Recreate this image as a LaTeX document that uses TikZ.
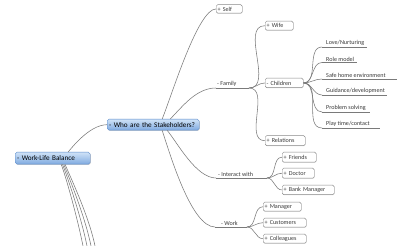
\documentclass[tikz,border=0pt]{standalone}
\usepackage{fontspec}
\setmainfont{Carlito}
\usetikzlibrary{shadows}
\definecolor{linegray}{HTML}{7A7A7A}
\definecolor{boxgray}{HTML}{8A8A8A}
\definecolor{txtgray}{HTML}{3A3A3A}
\definecolor{bluetop}{HTML}{CFE2F7}
\definecolor{bluebot}{HTML}{7FAAE0}
\definecolor{blueline}{HTML}{5B8BCB}
\begin{document}
\begin{tikzpicture}[x=1pt,y=-1pt,
  conn/.style={draw=linegray,line width=0.55pt},
  bluebox/.style={draw=blueline,rounded corners=1.8pt,top color=bluetop,bottom color=bluebot,
    inner xsep=2pt,inner ysep=0pt,anchor=north west,align=left,
    font=\fontsize{7.2}{8}\selectfont,text=black,
    drop shadow={shadow xshift=.6pt,shadow yshift=-.6pt,opacity=.35}},
  smallbox/.style={draw=boxgray,fill=white,rounded corners=1.5pt,
    inner xsep=1.5pt,inner ysep=0pt,anchor=north west,align=left,
    font=\fontsize{6.1}{7}\selectfont,text=txtgray,
    drop shadow={shadow xshift=.5pt,shadow yshift=-.5pt,opacity=.3}},
  lbl/.style={anchor=south west,inner xsep=0pt,inner ysep=0.9pt,
    font=\fontsize{6.1}{7}\selectfont,text=txtgray}]
\useasboundingbox (0,0) rectangle (400,246);
\fill[white] (0,0) rectangle (400,246);

% main boxes
\node[bluebox,text width=71pt,minimum height=12pt] (wlb) at (15,152) {- Work-Life Balance};
\node[bluebox,text width=88pt,minimum height=11pt] (who) at (107,119) {- Who are the Stakeholders?};

% small boxes
\node[smallbox,text width=23pt,minimum height=8.5pt] (self) at (216,4.5) {+ Self};
\node[smallbox,text width=25pt,minimum height=9pt] (wife) at (265,21) {+ Wife};
\node[smallbox,text width=35pt,minimum height=9.5pt] (children) at (265,78) {- Children};
\node[smallbox,text width=37pt,minimum height=10pt] (relations) at (265,135.5) {+ Relations};
\node[smallbox,text width=31pt,minimum height=10pt] (friends) at (282,152) {+ Friends};
\node[smallbox,text width=29pt,minimum height=10pt] (doctor) at (282,168) {+ Doctor};
\node[smallbox,text width=49pt,minimum height=9.5pt] (bank) at (282,185) {+ Bank Manager};
\node[smallbox,text width=35pt,minimum height=9pt] (manager) at (263,202) {+ Manager};
\node[smallbox,text width=40pt,minimum height=9pt] (customers) at (263,218) {+ Customers};
\node[smallbox,text width=40pt,minimum height=9pt] (colleagues) at (263,234) {+ Colleagues};

% underlined labels
\coordinate (famS) at (216,88);  \coordinate (famJ) at (249,88);
\coordinate (intS) at (216,178); \coordinate (intJ) at (267,178);
\coordinate (wrkS) at (215,227); \coordinate (wrkJ) at (247,227);
\node[lbl] (family) at (217,88) {- Family};
\node[lbl] (interact) at (218,178) {- Interact with};
\node[lbl] (work) at (221,227) {- Work};
\draw[conn] (famS) -- (famJ);
\draw[conn] (intS) -- (intJ);
\draw[conn] (wrkS) -- (wrkJ);

% children items
\coordinate (loveS) at (322,47);  \coordinate (loveE) at (367,47);
\coordinate (roleS) at (322,62.5);\coordinate (roleE) at (357,62.5);
\coordinate (safeS) at (322,79);  \coordinate (safeE) at (397,79);
\coordinate (guidS) at (322,95);  \coordinate (guidE) at (387,95);
\coordinate (probS) at (322,112); \coordinate (probE) at (370,112);
\coordinate (playS) at (322,128); \coordinate (playE) at (380,128);
\node[lbl] (love) at (326,47) {Love/Nurturing};
\node[lbl] (role) at (326,62.5) {Role model};
\node[lbl] (safe) at (326,79) {Safe home environment};
\node[lbl] (guid) at (326,95) {Guidance/development};
\node[lbl] (prob) at (326,112) {Problem solving};
\node[lbl] (play) at (326,128) {Play time/contact};
\foreach \a in {love,role,safe,guid,prob,play}{
  \draw[conn] (\a S) -- (\a E);
  \draw[conn] (children.east) to[out=0,in=180] (\a S);
}

% family branch
\draw[conn] (famJ) to[out=0,in=180] (wife.west);
\draw[conn] (famJ) to[out=0,in=180] (children.west);
\draw[conn] (famJ) to[out=0,in=180] (relations.west);
% interact branch
\draw[conn] (intJ) to[out=0,in=180] (friends.west);
\draw[conn] (intJ) to[out=0,in=180] (doctor.west);
\draw[conn] (intJ) to[out=0,in=180] (bank.west);
% work branch
\draw[conn] (wrkJ) to[out=0,in=180] (manager.west);
\draw[conn] (wrkJ) to[out=0,in=180] (customers.west);
\draw[conn] (wrkJ) to[out=0,in=180] (colleagues.west);

% stakeholders branches
\draw[conn] ([xshift=9pt]who.north) .. controls +(10,-25) and +(-18,0) .. (self.west);
\draw[conn] ([xshift=17pt]who.north) .. controls +(12,-12) and +(-20,0) .. (famS);
\draw[conn] ([xshift=14pt]who.south) .. controls +(10,12) and +(-20,0) .. (intS);
\draw[conn] ([xshift=9pt]who.south) .. controls +(9,28) and +(-23,0) .. (wrkS);

% root to stakeholders
\draw[conn] ([xshift=15.5pt]wlb.north) .. controls +(8,-10) and +(-15,0) .. (who.west);

% root branches running off the bottom
\begin{scope}
\clip (0,0) rectangle (400,246);
\coordinate (o1) at (83,246);
\coordinate (o2) at (87,246);
\coordinate (o3) at (91,246);
\coordinate (o4) at (95,246);
\draw[conn] ([xshift=8.5pt]wlb.south) .. controls +(4,10) and +(-6,-30) .. (o1);
\draw[conn] ([xshift=9.8pt]wlb.south) .. controls +(4,10) and +(-6,-30) .. (o2);
\draw[conn] ([xshift=11.1pt]wlb.south) .. controls +(4,10) and +(-6,-30) .. (o3);
\draw[conn] ([xshift=12.4pt]wlb.south) .. controls +(4,10) and +(-6,-30) .. (o4);
\end{scope}
\end{tikzpicture}
\end{document}
